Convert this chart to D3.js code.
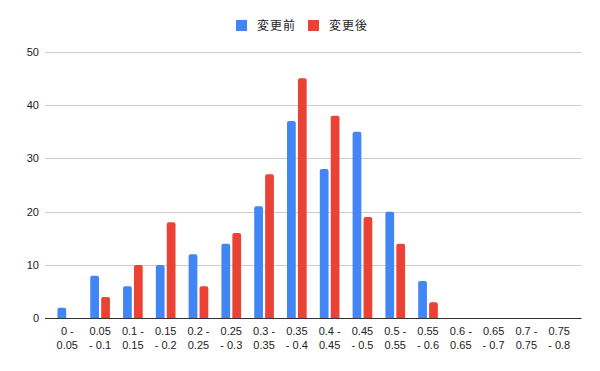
<!DOCTYPE html>
<meta charset="utf-8">
<style>
  body { margin: 0; background: #fff; }
  text { font-family: Arial, "Liberation Sans", sans-serif; }
</style>

<!-- Load d3.js -->
<script src="https://d3js.org/d3.v7.min.js"></script>

<!-- Create a div where the graph will take place -->
<div id="my_dataviz"></div>

<script>
    // data
    var categories = ["0 - 0.05", "0.05 - 0.1", "0.1 - 0.15", "0.15 - 0.2", "0.2 - 0.25", "0.25 - 0.3",
        "0.3 - 0.35", "0.35 - 0.4", "0.4 - 0.45", "0.45 - 0.5", "0.5 - 0.55", "0.55 - 0.6",
        "0.6 - 0.65", "0.65 - 0.7", "0.7 - 0.75", "0.75 - 0.8"]
    var seriesNames = ["変更前", "変更後"]
    var before = [2, 8, 6, 10, 12, 14, 21, 37, 28, 35, 20, 7, 0, 0, 0, 0]
    var after = [0, 4, 10, 18, 6, 16, 27, 45, 38, 19, 14, 3, 0, 0, 0, 0]
    var yTicks = [0, 10, 20, 30, 40, 50]
    var colors = ["#4285F4", "#EA4335"]

    // set the dimensions of the graph
    // (note: "top" is a window property, so plot edges get their own names)
    var width = 600
    var height = 371
    var plotLeft = 45, plotRight = 581.5, plotTop = 51.7, plotBottom = 318.3

    var svg = d3.select("#my_dataviz")
        .append("svg")
        .attr("width", width)
        .attr("height", height)

    // scales
    var y = d3.scaleLinear().domain([0, 50]).range([plotBottom, plotTop])
    var x0 = d3.scaleBand().domain(categories).range([plotLeft, plotRight]).paddingInner(0).paddingOuter(0.18)
    var x1 = d3.scaleBand().domain(seriesNames).range([0, x0.bandwidth()]).paddingInner(0.2).paddingOuter(0.6)

    // gridlines + y labels
    svg.selectAll("line.grid")
        .data(yTicks.filter(function(d) { return d > 0 }))
        .enter()
        .append("line")
        .attr("x1", plotLeft).attr("x2", plotRight)
        .attr("y1", function(d) { return Math.round(y(d)) + 0.5 }).attr("y2", function(d) { return Math.round(y(d)) + 0.5 })
        .attr("stroke", "#cccccc")
        .attr("stroke-width", 1)

    svg.selectAll("text.ylab")
        .data(yTicks)
        .enter()
        .append("text")
        .attr("x", 39)
        .attr("y", function(d) { return y(d) + 4 })
        .attr("text-anchor", "end")
        .style("font-size", "11px")
        .attr("fill", "#222")
        .text(function(d) { return d })

    // bars, rounded on top
    function barPath(x, w, y0, y1, r) {
        var h = y0 - y1
        if (h <= 0) return ""
        r = Math.min(r, h, w / 2)
        return "M" + x + "," + y0 +
            "V" + (y1 + r) +
            "Q" + x + "," + y1 + " " + (x + r) + "," + y1 +
            "H" + (x + w - r) +
            "Q" + (x + w) + "," + y1 + " " + (x + w) + "," + (y1 + r) +
            "V" + y0 + "Z"
    }

    var rows = categories.map(function(c, i) {
        return { cat: c, values: [before[i], after[i]] }
    })

    var groups = svg.selectAll("g.group")
        .data(rows)
        .enter()
        .append("g")
        .attr("transform", function(d) { return "translate(" + x0(d.cat) + ",0)" })

    groups.selectAll("path")
        .data(function(d) { return d.values.map(function(v, k) { return { key: seriesNames[k], value: v, k: k } }) })
        .enter()
        .append("path")
        .attr("d", function(d) { return barPath(x1(d.key), x1.bandwidth(), y(0), y(d.value), 2) })
        .attr("fill", function(d) { return colors[d.k] })

    // baseline
    svg.append("line")
        .attr("x1", plotLeft).attr("x2", plotRight)
        .attr("y1", Math.round(y(0)) + 0.5).attr("y2", Math.round(y(0)) + 0.5)
        .attr("stroke", "#333")
        .attr("stroke-width", 1)

    // x labels, wrapped to two lines
    var xl = svg.selectAll("text.xlab")
        .data(categories)
        .enter()
        .append("text")
        .attr("text-anchor", "middle")
        .style("font-size", "11px")
        .attr("fill", "#222")

    xl.each(function(d) {
        var t = d3.select(this)
        var cx = x0(d) + x0.bandwidth() / 2
        var words = d.split(" ")
        var lines = [], cur = ""
        words.forEach(function(w) {
            var test = cur ? cur + " " + w : w
            t.text(test)
            if (cur && this.getComputedTextLength() > 26) {
                lines.push(cur)
                cur = w
            } else {
                cur = test
            }
        }, this)
        lines.push(cur)
        t.text(null)
        lines.forEach(function(l, i) {
            t.append("tspan").attr("x", cx).attr("y", 335 + i * 14).text(l)
        })
    })

    // legend
    var legendX = [236, 308]
    var legend = svg.selectAll("g.legend")
        .data(seriesNames)
        .enter()
        .append("g")
        .attr("transform", function(d, i) { return "translate(" + legendX[i] + ",20)" })

    legend.append("rect")
        .attr("width", 11).attr("height", 11)
        .attr("fill", function(d, i) { return colors[i] })

    legend.append("text")
        .attr("x", 21)
        .attr("y", 10)
        .style("font-size", "12px")
        .style("font-family", "'Noto Sans CJK JP', sans-serif")
        .style("letter-spacing", "1px")
        .attr("fill", "#222")
        .text(function(d) { return d })
</script>
